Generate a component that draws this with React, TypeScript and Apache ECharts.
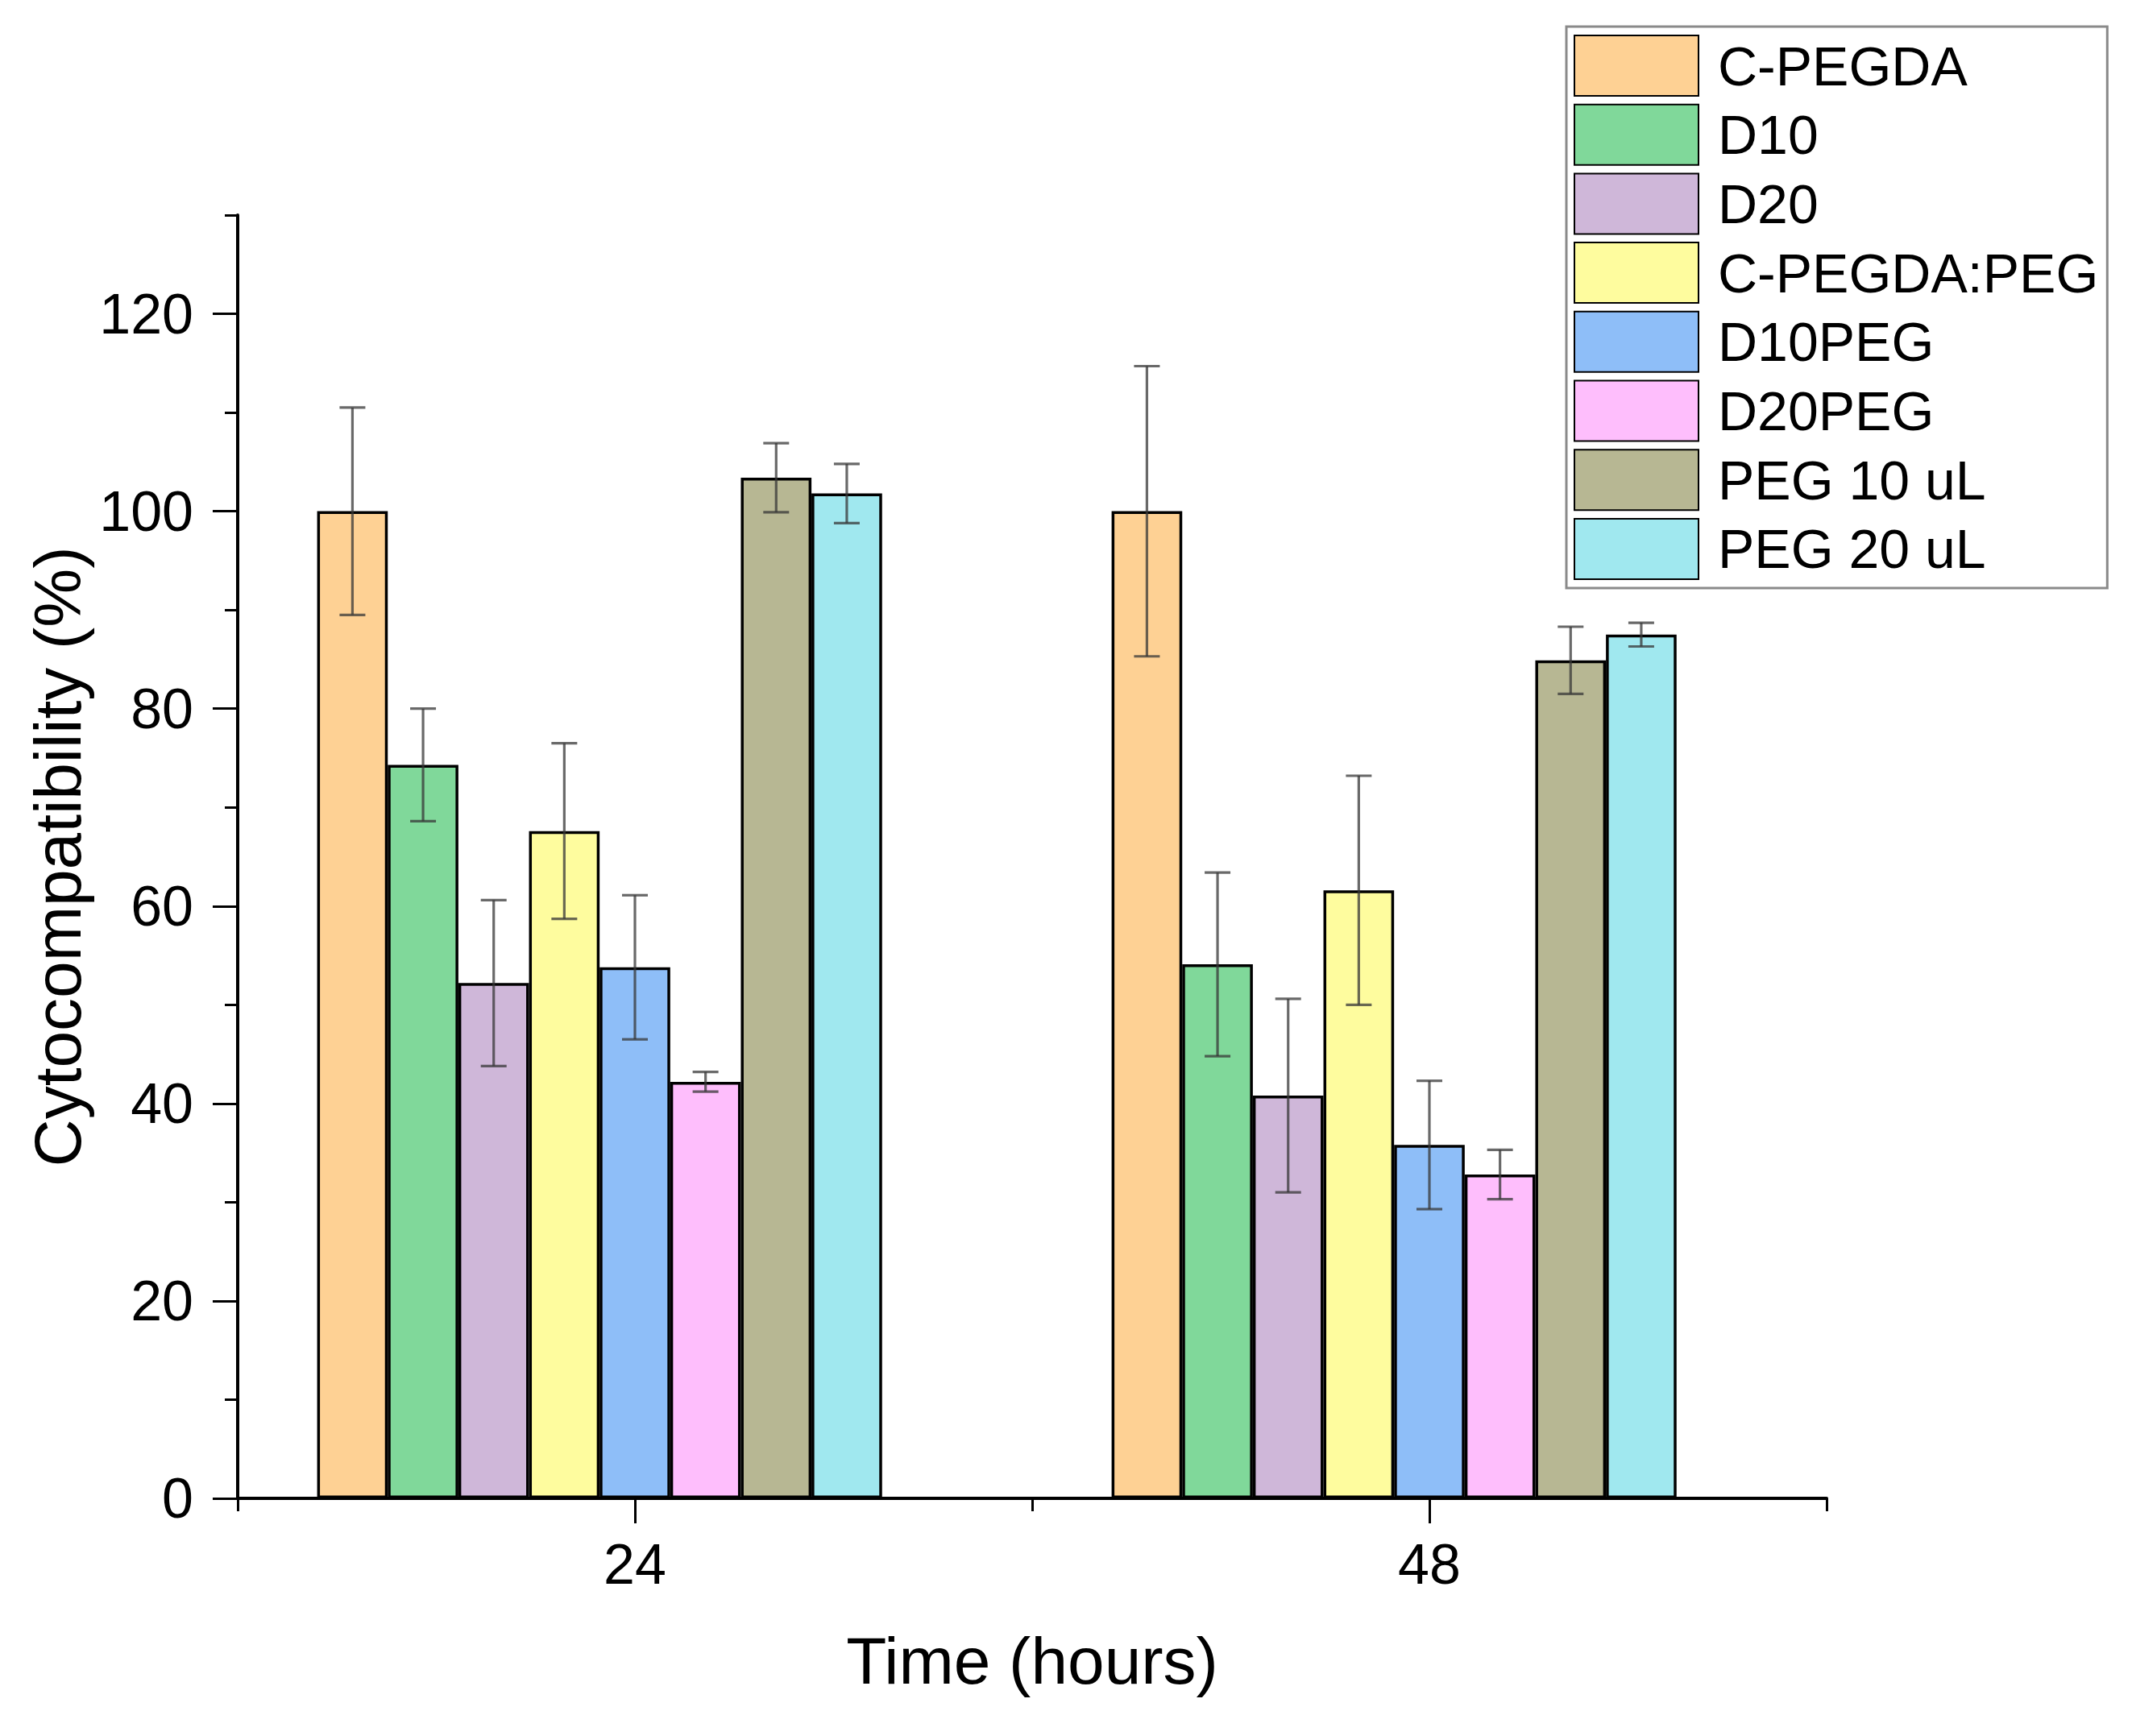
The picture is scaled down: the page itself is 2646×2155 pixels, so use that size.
import React, { useEffect, useRef } from "react";
import * as echarts from "echarts";

const categories = ["24", "48"];
const seriesNames = ["C-PEGDA", "D10", "D20", "C-PEGDA:PEG", "D10PEG", "D20PEG", "PEG 10 uL", "PEG 20 uL"];
const seriesColors = ["#FED194", "#80D89A", "#CFB7D9", "#FEFC9E", "#8EBEF8", "#FEBEFC", "#B7B793", "#A0E8EF"];

const cPegda = [100, 100];
const d10 = [74.3, 54.1];
const d20 = [52.2, 40.8];
const cPegdaPeg = [67.6, 61.6];
const d10Peg = [53.8, 35.8];
const d20Peg = [42.2, 32.8];
const peg10 = [103.4, 84.9];
const peg20 = [101.8, 87.5];

const cPegdaErr = [10.5, 14.7];
const d10Err = [5.7, 9.3];
const d20Err = [8.4, 9.8];
const cPegdaPegErr = [8.9, 11.6];
const d10PegErr = [7.3, 6.5];
const d20PegErr = [1.0, 2.5];
const peg10Err = [3.5, 3.4];
const peg20Err = [3.0, 1.2];

const yMajorTicks = [0, 20, 40, 60, 80, 100, 120];

const seriesValues = [cPegda, d10, d20, cPegdaPeg, d10Peg, d20Peg, peg10, peg20];
const seriesErrors = [cPegdaErr, d10Err, d20Err, cPegdaPegErr, d10PegErr, d20PegErr, peg10Err, peg20Err];

const FONT = "'Liberation Sans', Arial, sans-serif";
const SLOTS = 9;
const CAT_GAP = 0.2;

export default function App() {
  const ref = useRef<HTMLDivElement>(null);
  useEffect(() => {
    if (!ref.current) return;
    const chart = echarts.init(ref.current, null, { renderer: "svg" });

    const barSeries: any[] = seriesNames.map((name, i) => ({
      type: "bar",
      name,
      data: seriesValues[i],
      xAxisIndex: 0,
      yAxisIndex: 0,
      barGap: "0%",
      barCategoryGap: CAT_GAP * 100 + "%",
      itemStyle: { color: seriesColors[i], borderColor: "#000", borderWidth: 3.5 },
      z: 2,
    }));
    barSeries.push({
      type: "bar",
      name: "spacer",
      data: categories.map(() => null),
      xAxisIndex: 0,
      yAxisIndex: 0,
      barGap: "0%",
      barCategoryGap: CAT_GAP * 100 + "%",
      itemStyle: { color: "transparent" },
      silent: true,
    });

    const errData: any[] = [];
    seriesNames.forEach((_, s) => {
      categories.forEach((_c, c) => {
        errData.push([c, seriesValues[s][c], seriesErrors[s][c], s]);
      });
    });

    const errStyle = { stroke: "rgba(55,55,55,0.75)", lineWidth: 3.2 };
    barSeries.push({
      type: "custom",
      name: "error",
      xAxisIndex: 0,
      yAxisIndex: 0,
      z: 5,
      silent: true,
      encode: { x: 0, y: 1 },
      data: errData,
      renderItem: (params: any, api: any) => {
        const c = api.value(0);
        const v = api.value(1);
        const e = api.value(2);
        const s = api.value(3);
        const band = api.size([1, 0])[0];
        const barW = (band * (1 - CAT_GAP)) / SLOTS;
        const center = api.coord([c, v]);
        const x = center[0] + (s - 4) * barW;
        const yTop = api.coord([c, v + e])[1];
        const yBot = api.coord([c, v - e])[1];
        const cap = 16;
        return {
          type: "group",
          children: [
            { type: "line", shape: { x1: x, y1: yTop, x2: x, y2: yBot }, style: errStyle },
            { type: "line", shape: { x1: x - cap, y1: yTop, x2: x + cap, y2: yTop }, style: errStyle },
            { type: "line", shape: { x1: x - cap, y1: yBot, x2: x + cap, y2: yBot }, style: errStyle },
          ],
        };
      },
    });

    const axisLineStyle = { color: "#000", width: 4 };
    const tickStyle = { color: "#000", width: 3 };

    chart.setOption({
      animation: false,
      backgroundColor: "#fff",
      textStyle: { fontFamily: FONT },
      grid: { left: 295, right: 379, top: 267, bottom: 295 },
      legend: {
        data: seriesNames,
        orient: "vertical",
        left: 1944,
        top: 33,
        padding: [10, 11, 10, 9],
        itemWidth: 154,
        itemHeight: 75,
        itemGap: 8.7,
        icon: "rect",
        borderColor: "#8a8a8a",
        borderWidth: 3,
        backgroundColor: "#fff",
        selectedMode: false,
        textStyle: { fontSize: 68, color: "#000", fontFamily: FONT, padding: [0, 0, 0, 19] },
      },
      xAxis: [
        {
          type: "category",
          data: categories,
          position: "bottom",
          boundaryGap: true,
          axisLine: { show: true, lineStyle: axisLineStyle },
          axisTick: { show: true, alignWithLabel: true, length: 31, lineStyle: tickStyle },
          axisLabel: { fontSize: 70, color: "#000", margin: 47, fontFamily: FONT },
          splitLine: { show: false },
          name: "Time (hours)",
          nameLocation: "middle",
          nameGap: 160,
          nameTextStyle: { fontSize: 82, color: "#000", fontFamily: FONT },
        },
        {
          type: "value",
          min: 0,
          max: categories.length,
          interval: 1,
          position: "bottom",
          axisLine: { show: false },
          axisTick: { show: true, length: 16, lineStyle: tickStyle },
          axisLabel: { show: false },
          splitLine: { show: false },
        },
      ],
      yAxis: [
        {
          type: "value",
          min: 0,
          max: 130,
          interval: 20,
          position: "left",
          axisLine: { show: true, lineStyle: axisLineStyle },
          axisTick: { show: true, length: 31, lineStyle: tickStyle, customValues: yMajorTicks },
          axisLabel: { fontSize: 70, color: "#000", margin: 55, fontFamily: FONT, customValues: yMajorTicks },
          splitLine: { show: false },
          name: "Cytocompatibility (%)",
          nameLocation: "middle",
          nameGap: 180,
          nameTextStyle: { fontSize: 82, color: "#000", fontFamily: FONT },
        },
        {
          type: "value",
          min: 0,
          max: 130,
          interval: 10,
          position: "left",
          axisLine: { show: false },
          axisTick: { show: true, length: 16, lineStyle: tickStyle },
          axisLabel: { show: false },
          splitLine: { show: false },
        },
      ],
      series: barSeries,
    });

    return () => chart.dispose();
  }, []);

  return (
    <div
      ref={ref}
      style={{ position: "absolute", left: 0, top: 0, width: 2646, height: 2155, background: "#fff" }}
    />
  );
}
